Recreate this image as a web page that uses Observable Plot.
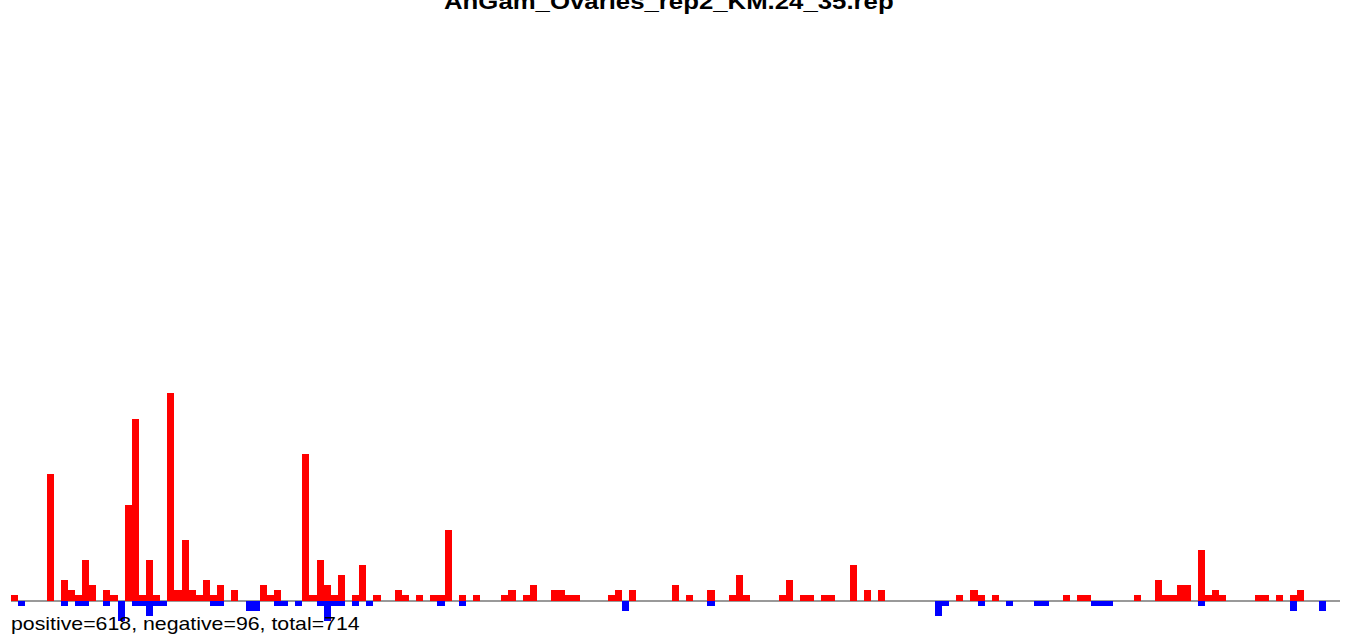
<!DOCTYPE html>
<html>
<head>
<meta charset="utf-8">
<script src="https://cdn.jsdelivr.net/npm/d3@7"></script>
<script src="https://cdn.jsdelivr.net/npm/@observablehq/plot@0.6"></script>
<style>
  html, body { margin: 0; padding: 0; background: #fff; }
  #wrap { position: relative; width: 1349px; height: 641px; overflow: hidden; }
  #chart { position: absolute; left: 0; top: 0; }
  .txt { position: absolute; white-space: nowrap; font-family: "Liberation Sans", Arial, sans-serif; color: #000; transform-origin: 0 0; }
  #title { font-weight: bold; font-size: 22.8px; line-height: 22.8px; left: 444px; top: -9.8px; transform: scaleX(1.13); }
  #caption { font-size: 18.6px; line-height: 18.6px; left: 11px; top: 615.3px; transform: scaleX(1.145); }
</style>
</head>
<body>
<div id="wrap">
  <div id="chart"></div>
  <div id="title" class="txt"></div>
  <div id="caption" class="txt"></div>
</div>
<script>
const titleText = "AnGam_Ovaries_rep2_KM.24_35.rep";
const captionText = "positive=618, negative=96, total=714";

const posSlots = [0,5,7,8,9,10,11,13,14,16,17,18,19,20,22,23,24,25,26,27,28,29,31,35,36,37,41,42,43,44,45,46,48,49,51,54,55,57,59,60,61,63,65,69,70,72,73,76,77,78,79,84,85,87,93,95,98,101,102,103,108,109,111,112,114,115,118,120,122,133,135,136,138,148,150,151,158,161,162,163,164,165,167,168,169,170,175,176,178,180,181];
const posValues = [1,25,4,2,1,8,3,2,1,19,36,1,8,1,41,2,12,2,1,4,1,3,2,3,1,2,29,1,8,3,1,5,1,7,1,2,1,1,1,1,14,1,1,1,2,1,3,2,2,1,1,1,2,2,3,1,2,1,5,1,1,4,1,1,1,1,7,2,2,1,2,1,1,1,1,1,1,4,1,1,3,3,10,1,2,1,1,1,1,1,2];

const negSlots = [1,7,9,10,13,15,17,18,19,20,21,28,29,33,34,37,38,40,43,44,45,46,48,50,60,63,86,98,130,131,136,140,144,145,152,153,154,167,180,184];
const negValues = [1,1,1,1,1,4,1,1,3,1,1,1,1,2,2,1,1,1,1,4,1,1,1,1,1,1,2,1,3,1,1,1,1,1,1,1,1,1,2,2];

const slotCount = 187;

const pos = posSlots.map((s, i) => ({slot: s, v: posValues[i]}));
const neg = negSlots.map((s, i) => ({slot: s, v: -negValues[i]}));

const unit = 5.05;
const base = 600.5;

const chart = Plot.plot({
  width: 1349,
  height: 641,
  margin: 0,
  x: {domain: [0, slotCount], range: [11, 1340], axis: null},
  y: {domain: [-8, 42], range: [base + 8 * unit, base - 42 * unit], axis: null},
  marks: [
    Plot.ruleY([0], {x1: 0, x2: slotCount, stroke: "#999999", strokeWidth: 2}),
    Plot.rect(pos, {x1: d => d.slot, x2: d => d.slot + 1, y1: 0, y2: d => d.v, fill: "#ff0000", shapeRendering: "crispEdges"}),
    Plot.rect(neg, {x1: d => d.slot, x2: d => d.slot + 1, y1: 0, y2: d => d.v, fill: "#0000ff", shapeRendering: "crispEdges"})
  ]
});
document.getElementById("chart").appendChild(chart);
document.getElementById("title").textContent = titleText;
document.getElementById("caption").textContent = captionText;
</script>
</body>
</html>
